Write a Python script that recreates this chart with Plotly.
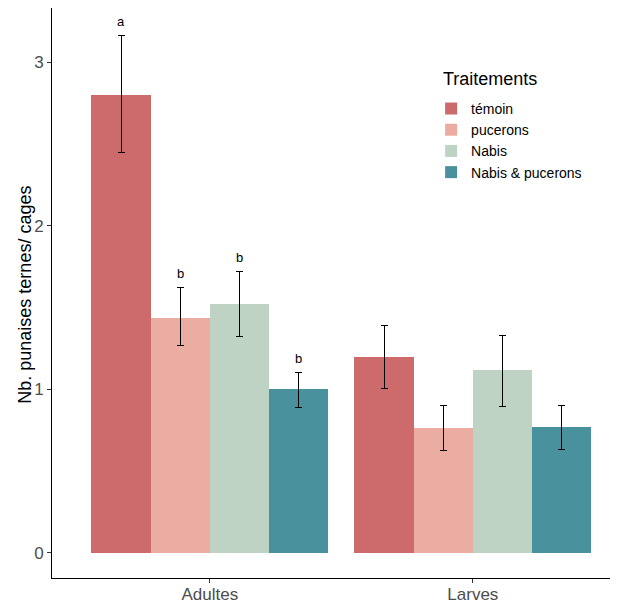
import plotly.graph_objects as go

stades = ["Adultes", "Larves"]
traitements = ["témoin", "pucerons", "Nabis", "Nabis & pucerons"]
couleurs = ["#CD6A6C", "#EBADA2", "#BFD3C5", "#4A919E"]

moyennes = {
    "témoin": [2.80, 1.20],
    "pucerons": [1.435, 0.764],
    "Nabis": [1.52, 1.116],
    "Nabis & pucerons": [1.00, 0.77],
}
err_haut = {
    "témoin": [3.16, 1.39],
    "pucerons": [1.62, 0.90],
    "Nabis": [1.72, 1.33],
    "Nabis & pucerons": [1.105, 0.904],
}
err_bas = {
    "témoin": [2.45, 1.008],
    "pucerons": [1.265, 0.625],
    "Nabis": [1.32, 0.898],
    "Nabis & pucerons": [0.886, 0.635],
}
lettres = {
    "témoin": ["a", ""],
    "pucerons": ["b", ""],
    "Nabis": ["b", ""],
    "Nabis & pucerons": ["b", ""],
}

group_width = 0.9
n = len(traitements)
bw = group_width / n

fig = go.Figure()
for i, t in enumerate(traitements):
    xs = [g + (i - (n - 1) / 2) * bw for g in range(len(stades))]
    m = moyennes[t]
    fig.add_trace(go.Bar(
        x=xs, y=m, width=bw, name=t,
        marker=dict(color=couleurs[i], line=dict(width=0)),
        error_y=dict(type="data", symmetric=False,
                     array=[h - v for h, v in zip(err_haut[t], m)],
                     arrayminus=[v - b for v, b in zip(m, err_bas[t])],
                     color="black", thickness=1, width=3.5),
    ))
    for x, yh, l in zip(xs, err_haut[t], lettres[t]):
        if l:
            fig.add_annotation(x=x, y=yh, text=l, showarrow=False, yshift=14,
                               font=dict(size=13, color="black"))

fig.add_annotation(text="Traitements", xref="paper", yref="paper", x=0.688, y=0.875,
                   xanchor="left", yanchor="middle", showarrow=False,
                   font=dict(size=18, color="black"))
fig.add_annotation(text="Nb. punaises ternes/ cages", xref="paper", yref="paper",
                   x=-0.0478, y=0.497, xanchor="center", yanchor="middle",
                   textangle=-90, showarrow=False,
                   font=dict(size=18, color="black"))

fig.update_layout(
    width=610, height=597,
    margin=dict(l=44, r=1, t=0, b=27),
    plot_bgcolor="white", paper_bgcolor="white",
    font=dict(family="Liberation Sans, Arial, sans-serif"),
    bargap=0, barmode="overlay",
    legend=dict(
        font=dict(size=14, color="black"),
        x=0.671, y=0.851, xanchor="left", yanchor="top",
        bgcolor="rgba(0,0,0,0)", tracegroupgap=0,
    ),
    xaxis=dict(
        range=[-0.6, 1.548], tickvals=[0, 1], ticktext=stades, automargin=False,
        showgrid=False, zeroline=False, showline=True, linecolor="black", linewidth=1,
        ticks="outside", ticklen=4, tickcolor="#333333", ticklabelstandoff=-3,
        tickfont=dict(size=17, color="#4D4D4D"),
    ),
    yaxis=dict(
        range=[-0.153, 3.33], tickvals=[0, 1, 2, 3], automargin=False,
        showgrid=False, zeroline=False, showline=True, linecolor="black", linewidth=1,
        ticks="outside", ticklen=4, tickcolor="#333333",
        tickfont=dict(size=17, color="#4D4D4D"),
    ),
)

fig.write_html("out.html")
